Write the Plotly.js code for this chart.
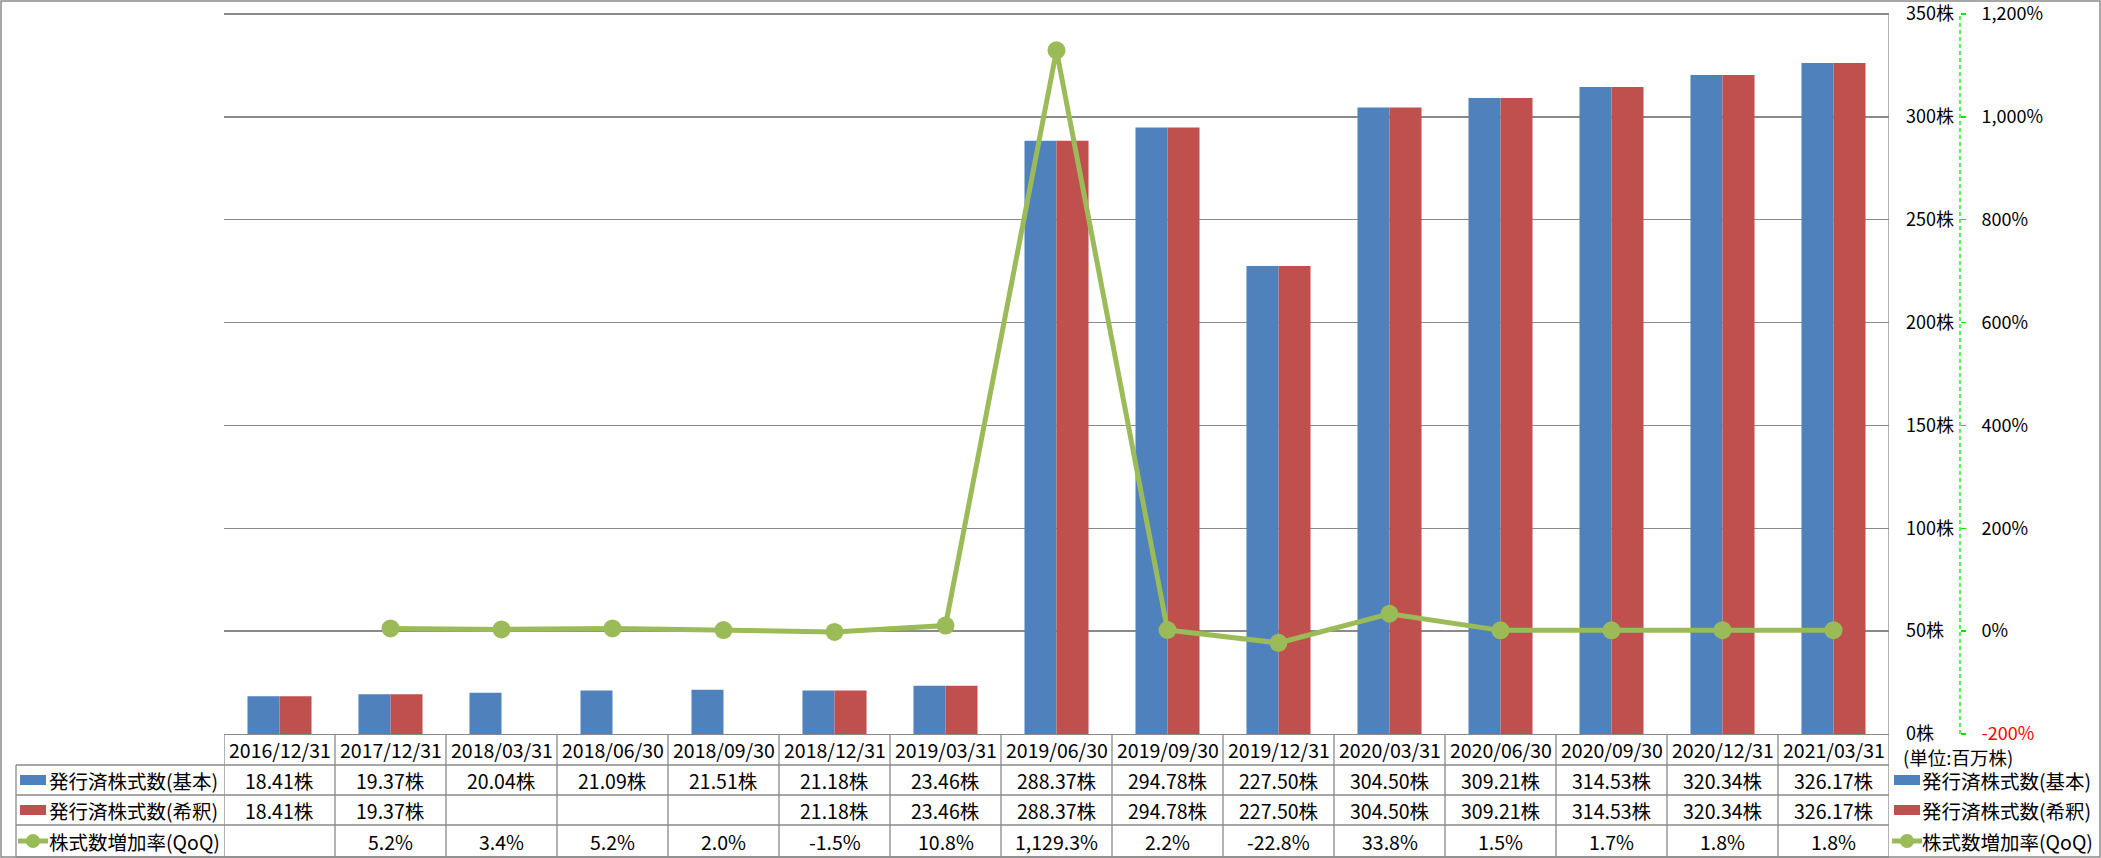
<!DOCTYPE html>
<html>
<head>
<meta charset="utf-8">
<script src="https://cdn.plot.ly/plotly-3.0.1.min.js"></script>
<style>html,body{margin:0;padding:0;background:#fff;}#chart{width:2101px;height:858px;}</style>
</head>
<body>
<div id="chart"></div>
<script>
const categories = ["2016/12/31","2017/12/31","2018/03/31","2018/06/30","2018/09/30","2018/12/31","2019/03/31","2019/06/30","2019/09/30","2019/12/31","2020/03/31","2020/06/30","2020/09/30","2020/12/31","2021/03/31"];
const basicShares = [18.41, 19.37, 20.04, 21.09, 21.51, 21.18, 23.46, 288.37, 294.78, 227.50, 304.50, 309.21, 314.53, 320.34, 326.17];
const dilutedShares = [18.41, 19.37, null, null, null, 21.18, 23.46, 288.37, 294.78, 227.50, 304.50, 309.21, 314.53, 320.34, 326.17];
const qoqGrowth = [null, 5.2, 3.4, 5.2, 2.0, -1.5, 10.8, 1129.3, 2.2, -22.8, 33.8, 1.5, 1.7, 1.8, 1.8];
const seriesNames = ["発行済株式数(基本)", "発行済株式数(希釈)", "株式数増加率(QoQ)"];
const shareTicks = [0, 50, 100, 150, 200, 250, 300, 350];
const rateTicks = [-200, 0, 200, 400, 600, 800, 1000, 1200];
const unitLabel = "(単位:百万株)";
const shareSuffix = "株";

const W = 2101, H = 858;
const FONT = "Noto Sans CJK JP, Noto Sans, sans-serif";
const FS = 19.5, TICK_FS = 18;
const BLUE = "#4F81BD", RED = "#C0504D", GREEN = "#9BBB59", GRAY = "#8A8A8A", LIME = "#00E600";
// pixel frame: value 0 at y=734, value 350 at y=14 -> 720px per 350 units
const AXIS_Y = 734, PLOT_TOP = 10;
const PLOT_H = AXIS_Y - PLOT_TOP;
const SHARE_MAX = 350, RATE_MIN = -200, RATE_SPAN = 1400;
const yTop = SHARE_MAX * PLOT_H / 720;
const y2Top = RATE_MIN + RATE_SPAN * yTop / SHARE_MAX;
const px = p => p / W;
const py = p => (AXIS_Y - p) / PLOT_H;

const fmtShares = v => (v == null ? "" : v.toFixed(2) + shareSuffix);
const fmtRate = v => (v == null ? "" : v.toLocaleString("en-US", {minimumFractionDigits: 1, maximumFractionDigits: 1}) + "%");
const shareTickText = shareTicks.map(v => v + shareSuffix);
const rateTickText = rateTicks.map(v => {
  const s = v.toLocaleString("en-US") + "%";
  return v < 0 ? '<span style="color:#FF0000">' + s + '</span>' : s;
});

const traces = [
  {type: "bar", name: seriesNames[0], x: categories, y: basicShares, marker: {color: BLUE}, hoverinfo: "skip"},
  {type: "bar", name: seriesNames[1], x: categories, y: dilutedShares, marker: {color: RED}, hoverinfo: "skip"},
  {type: "scatter", mode: "lines+markers", name: seriesNames[2], x: categories, y: qoqGrowth, yaxis: "y2",
   line: {color: GREEN, width: 5}, marker: {color: GREEN, size: 18}, connectgaps: false, hoverinfo: "skip"}
];

const rowEdges = [734, 765, 795, 825, 857];
const rowCenters = [749.5, 780, 810, 841];
const shapes = [];
const annotations = [];
const line = {color: GRAY, width: 1.3};

shapes.push({type: "rect", xref: "paper", yref: "paper", x0: px(1), x1: px(2100), y0: py(857), y1: py(1), line: {color: GRAY, width: 1.5}});
shapes.push({type: "line", xref: "x", yref: "paper", x0: categories.length - 0.5, x1: categories.length - 0.5, y0: py(14), y1: py(857), line});
for (let i = 0; i < categories.length; i++) {
  shapes.push({type: "line", xref: "x", yref: "paper", x0: i - 0.5, x1: i - 0.5, y0: 0, y1: py(857), line});
}
shapes.push({type: "line", xref: "paper", yref: "paper", x0: px(16), x1: px(16), y0: py(765), y1: py(857), line});
for (let r = 1; r < rowEdges.length; r++) {
  shapes.push({type: "line", xref: "paper", yref: "paper", x0: px(16), x1: px(1889), y0: py(rowEdges[r]), y1: py(rowEdges[r]), line});
}
shapes.push({type: "line", xref: "paper", yref: "y", x0: px(1960), x1: px(1960), y0: 0, y1: SHARE_MAX, line: {color: LIME, width: 1.3, dash: "4px,3px"}});

function legendKeys(x0) {
  shapes.push({type: "rect", xref: "paper", yref: "paper", x0: px(x0), x1: px(x0 + 26), y0: py(rowCenters[1] + 5), y1: py(rowCenters[1] - 5), fillcolor: BLUE, line: {width: 0}});
  shapes.push({type: "rect", xref: "paper", yref: "paper", x0: px(x0), x1: px(x0 + 26), y0: py(rowCenters[2] + 5), y1: py(rowCenters[2] - 5), fillcolor: RED, line: {width: 0}});
  shapes.push({type: "line", xref: "paper", yref: "paper", x0: px(x0 - 2), x1: px(x0 + 28), y0: py(rowCenters[3]), y1: py(rowCenters[3]), line: {color: GREEN, width: 5}});
  shapes.push({type: "circle", xref: "paper", yref: "paper", x0: px(x0 + 6), x1: px(x0 + 20), y0: py(rowCenters[3] + 7), y1: py(rowCenters[3] - 7), fillcolor: GREEN, line: {width: 0}});
}
legendKeys(20);
legendKeys(1894);

const txt = (x, xref, y, text, xanchor, size) => ({x, xref, y: py(y), yref: "paper", text, showarrow: false, xanchor: xanchor || "center", yanchor: "middle", borderpad: 0, font: {family: FONT, size: size || FS, color: "#000"}});

categories.forEach((c, i) => {
  annotations.push(txt(c, "x", rowCenters[0], c));
  annotations.push(txt(c, "x", rowCenters[1], fmtShares(basicShares[i])));
  annotations.push(txt(c, "x", rowCenters[2], fmtShares(dilutedShares[i])));
  annotations.push(txt(c, "x", rowCenters[3], fmtRate(qoqGrowth[i])));
});
seriesNames.forEach((n, k) => {
  annotations.push(txt(px(48), "paper", rowCenters[k + 1], n, "left"));
  annotations.push(txt(px(1921), "paper", rowCenters[k + 1], n, "left"));
});
annotations.push(txt(px(1902), "paper", 757, unitLabel, "left", 18.5));

const layout = {
  width: W, height: H,
  margin: {l: 0, r: 0, t: PLOT_TOP, b: H - AXIS_Y, pad: 0},
  paper_bgcolor: "#fff", plot_bgcolor: "#fff",
  showlegend: false,
  barmode: "group", bargap: 0.423, bargroupgap: 0,
  font: {family: FONT, size: FS, color: "#000"},
  xaxis: {domain: [px(224), px(1889)], type: "category", showticklabels: false, ticks: "", showgrid: false,
          showline: true, linecolor: GRAY, linewidth: 1.3, zeroline: false, range: [-0.5, categories.length - 0.5], fixedrange: true},
  yaxis: {range: [0, yTop], tickmode: "array", tickvals: shareTicks, ticktext: shareTickText, side: "right", anchor: "x",
          showgrid: true, gridcolor: GRAY, gridwidth: 1.3, zeroline: false, showline: false, ticks: "",
          ticklabelstandoff: 16, ticklabeloverflow: "allow", tickfont: {family: FONT, size: TICK_FS, color: "#000"}, fixedrange: true},
  yaxis2: {range: [RATE_MIN, y2Top], tickmode: "array", overlaying: "y", side: "right", anchor: "free", position: px(1960),
           tickvals: rateTicks, ticktext: rateTickText, showgrid: false, zeroline: false, showline: false,
           ticks: "outside", ticklen: 5, tickcolor: LIME, tickwidth: 1.3, ticklabelstandoff: 12, ticklabeloverflow: "allow",
           tickfont: {family: FONT, size: TICK_FS, color: "#000"}, fixedrange: true},
  shapes, annotations
};

Plotly.newPlot("chart", traces, layout, {displayModeBar: false, staticPlot: true});
</script>
</body>
</html>
